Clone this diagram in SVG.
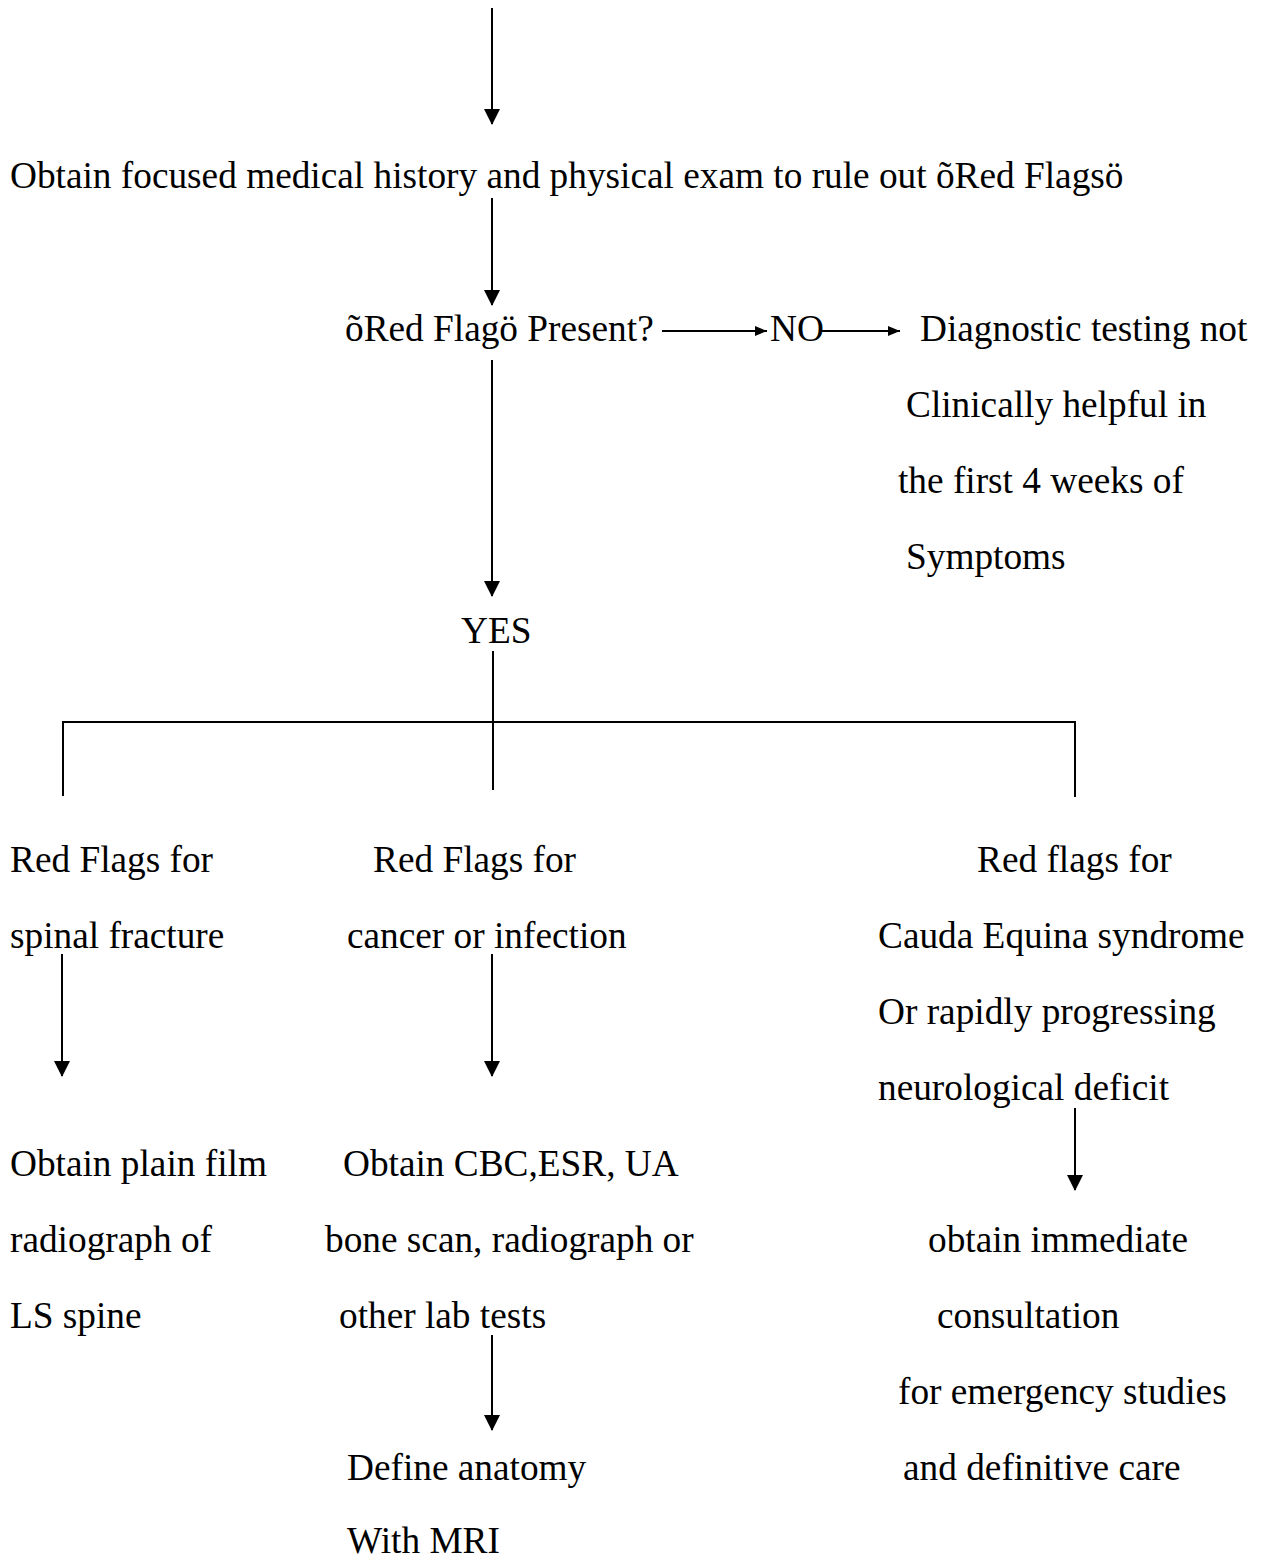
<svg xmlns="http://www.w3.org/2000/svg" width="1262" height="1560" viewBox="0 0 1262 1560">
<style>
text{font-family:"Liberation Serif","Times New Roman",serif;font-size:37.3px;fill:#000}
.c{stroke:#000;stroke-width:2;fill:none}
</style>
<defs>
<marker id="ah" markerUnits="userSpaceOnUse" markerWidth="16" markerHeight="16" viewBox="0 0 16 16" refX="15" refY="8" orient="auto"><path d="M0,0 L16,8 L0,16 Z" fill="#000"/></marker>
<marker id="as" markerUnits="userSpaceOnUse" markerWidth="12" markerHeight="10" viewBox="0 0 12 10" refX="12" refY="5" orient="auto"><path d="M0,0 L12,5 L0,10 Z" fill="#000"/></marker>
</defs>
<rect width="1262" height="1560" fill="#fff"/>
<g id="connectors">
<line class="c" x1="492" y1="8" x2="492" y2="124" marker-end="url(#ah)"/>
<line class="c" x1="492" y1="198" x2="492" y2="305" marker-end="url(#ah)"/>
<line class="c" x1="662" y1="331" x2="767" y2="331" marker-end="url(#as)"/>
<line class="c" x1="820" y1="331" x2="900" y2="331" marker-end="url(#as)"/>
<line class="c" x1="492" y1="360" x2="492" y2="596" marker-end="url(#ah)"/>
<line class="c" x1="493" y1="651" x2="493" y2="790"/>
<polyline class="c" points="63,796 63,722 1075,722 1075,797"/>
<line class="c" x1="62" y1="954" x2="62" y2="1076" marker-end="url(#ah)"/>
<line class="c" x1="492" y1="954" x2="492" y2="1076" marker-end="url(#ah)"/>
<line class="c" x1="1075" y1="1108" x2="1075" y2="1190" marker-end="url(#ah)"/>
<line class="c" x1="492" y1="1335" x2="492" y2="1430" marker-end="url(#ah)"/>
</g>
<g id="n-history"><text x="10" y="188">Obtain focused medical history and physical exam to rule out õRed Flagsö</text></g>
<g id="n-present"><text x="345" y="341">õRed Flagö Present?</text></g>
<g id="n-no"><text x="770" y="341">NO</text></g>
<g id="n-notest">
<text x="920" y="341">Diagnostic testing not</text>
<text x="906" y="417">Clinically helpful in</text>
<text x="898" y="493">the first 4 weeks of</text>
<text x="906" y="569">Symptoms</text>
</g>
<g id="n-yes"><text x="461" y="643">YES</text></g>
<g id="n-fracture">
<text x="10" y="872">Red Flags for</text>
<text x="10" y="948">spinal fracture</text>
</g>
<g id="n-cancer">
<text x="373" y="872">Red Flags for</text>
<text x="347" y="948">cancer or infection</text>
</g>
<g id="n-cauda">
<text x="977" y="872">Red flags for</text>
<text x="878" y="948">Cauda Equina syndrome</text>
<text x="878" y="1024">Or rapidly progressing</text>
<text x="878" y="1100">neurological deficit</text>
</g>
<g id="n-plainfilm">
<text x="10" y="1176">Obtain plain film</text>
<text x="10" y="1252">radiograph of</text>
<text x="10" y="1328">LS spine</text>
</g>
<g id="n-cbc">
<text x="343" y="1176">Obtain CBC,ESR, UA</text>
<text x="325" y="1252">bone scan, radiograph or</text>
<text x="339" y="1328">other lab tests</text>
</g>
<g id="n-consult">
<text x="928" y="1252">obtain immediate</text>
<text x="937" y="1328">consultation</text>
<text x="898" y="1404">for emergency studies</text>
<text x="903" y="1480">and definitive care</text>
</g>
<g id="n-mri">
<text x="347" y="1480">Define anatomy</text>
<text x="347" y="1553">With MRI</text>
</g>
</svg>
